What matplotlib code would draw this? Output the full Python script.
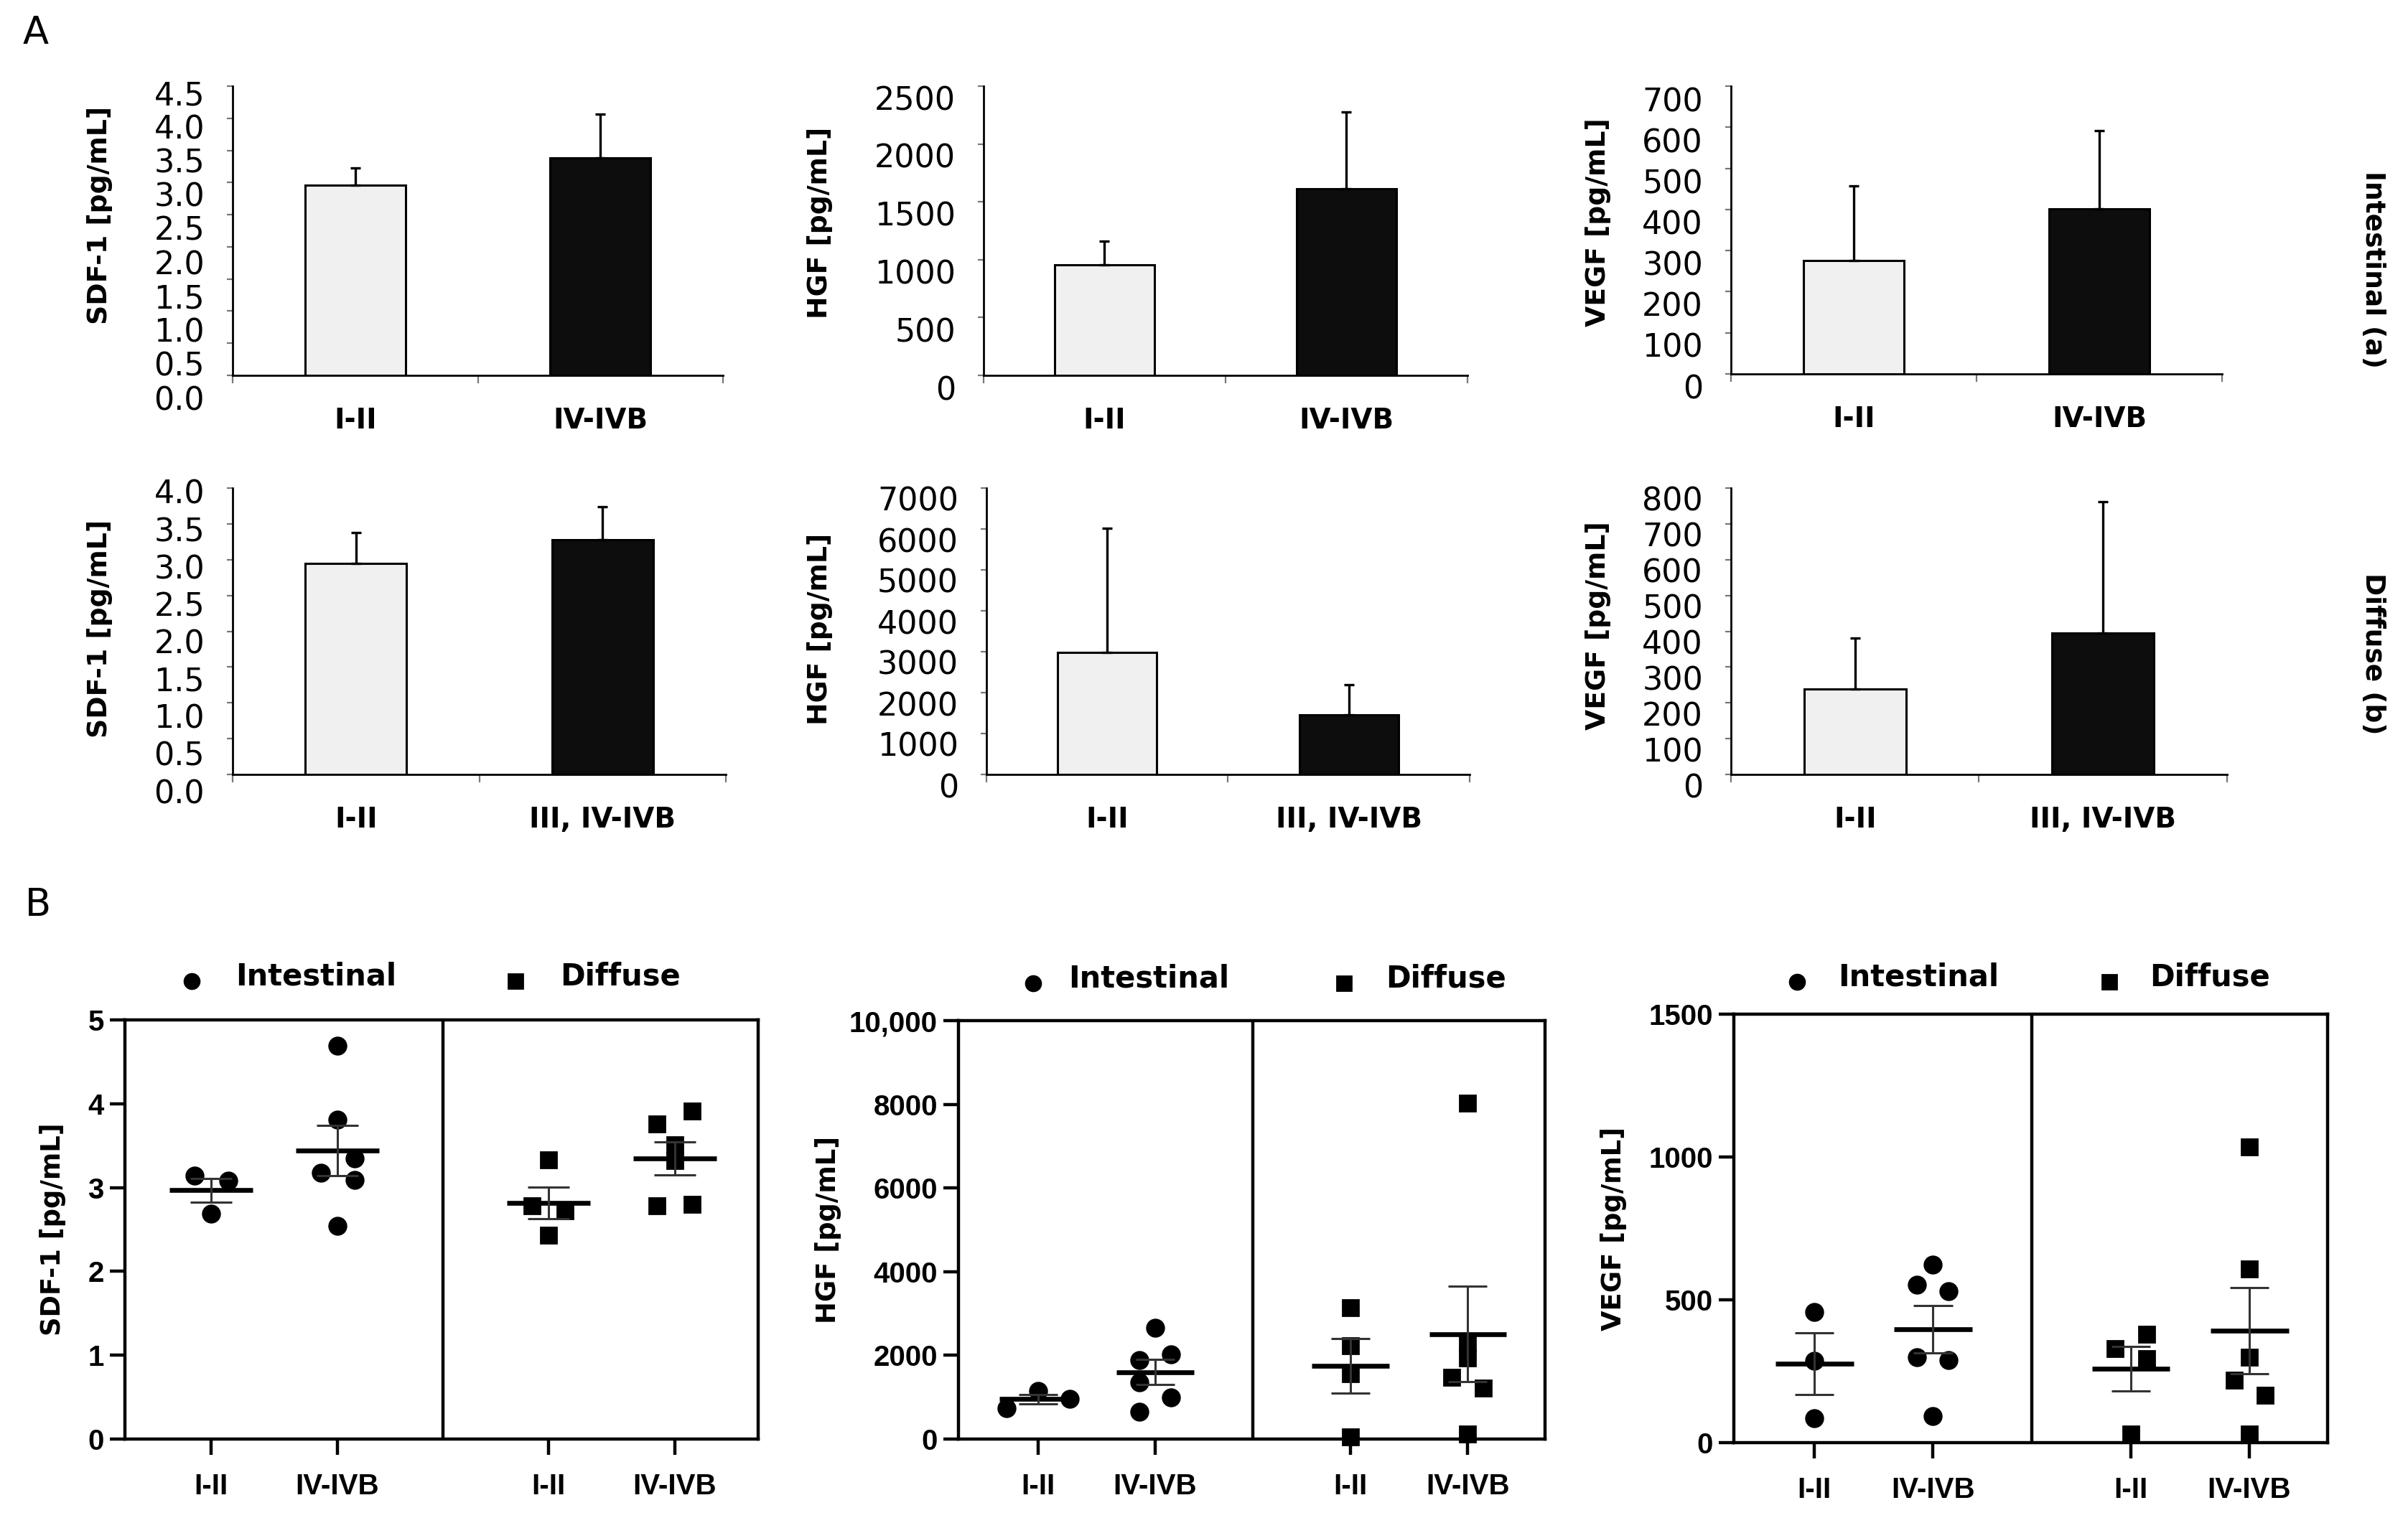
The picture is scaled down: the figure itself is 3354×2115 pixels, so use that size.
import numpy as np
import matplotlib
matplotlib.use("Agg")
import matplotlib.pyplot as plt
from matplotlib.transforms import ScaledTranslation

# ---- panel A: bar means with upper error ----
stages_int = ["I-II", "IV-IVB"]
stages_diff = ["I-II", "III, IV-IVB"]

sdf_int_mean = [2.96, 3.38]
sdf_int_err = [0.27, 0.69]
hgf_int_mean = [955, 1611]
hgf_int_err = [205, 666]
vegf_int_mean = [275, 402]
vegf_int_err = [183, 189]

sdf_diff_mean = [2.95, 3.28]
sdf_diff_err = [0.43, 0.46]
hgf_diff_mean = [2990, 1448]
hgf_diff_err = [3031, 738]
vegf_diff_mean = [238, 395]
vegf_diff_err = [142, 367]

# ---- panel B: individual patients ----
stages_b = ["I-II", "IV-IVB", "I-II", "IV-IVB"]

sdf_int_12 = [3.14, 3.08, 2.69]
sdf_int_4 = [4.69, 3.81, 3.35, 3.18, 3.09, 2.54]
sdf_diff_12 = [3.33, 2.78, 2.72, 2.43]
sdf_diff_4 = [3.91, 3.76, 3.51, 3.32, 2.78, 2.80]

hgf_int_12 = [740, 1150, 968]
hgf_int_4 = [2659, 2032, 1890, 1355, 996, 655]
hgf_diff_12 = [3143, 2232, 1566, 57]
hgf_diff_4 = [8030, 2277, 1935, 1480, 1224, 114]

vegf_int_12 = [457, 286, 85]
vegf_int_4 = [624, 553, 530, 298, 288, 94]
vegf_diff_12 = [380, 329, 294, 31]
vegf_diff_4 = [1034, 608, 298, 219, 165, 31]

# horizontal scatter of the dots (fraction of group spacing)
sdf_jit = [[-0.13, 0.14, 0], [0, 0, 0.14, -0.13, 0.14, 0],
           [0, -0.13, 0.13, 0], [0.14, -0.14, 0, 0, -0.14, 0.14]]
hgf_jit = [[-0.27, 0, 0.27], [0, 0.135, -0.135, -0.135, 0.135, -0.135],
           [0, 0, 0, 0], [0, 0, 0, -0.135, 0.135, 0]]
vegf_jit = [[0, 0, 0], [0, -0.134, 0.134, -0.134, 0.134, 0],
            [0.134, -0.134, 0.134, 0], [0, 0, 0, -0.13, 0.13, 0]]

W, H, DPI = 3355, 2115, 200
LIGHT = "#f0f0f0"
DARK = "#0d0d0d"

plt.rcParams["font.family"] = "DejaVu Sans"
fig = plt.figure(figsize=(W / DPI, H / DPI), dpi=DPI)


def rect(l, t, r, b):
    return [l / W, 1 - b / H, (r - l) / W, (b - t) / H]


def bar_panel(box, means, errs, cats, yticks, fmt, ylab, shift, lab_y):
    ax = fig.add_axes(rect(*box))
    x = np.arange(len(means))
    ax.bar(x, means, width=0.41, color=[LIGHT, DARK], edgecolor="black",
           linewidth=1.1, zorder=2)
    ax.errorbar(x, means, yerr=[np.zeros(len(errs)), errs], fmt="none",
                ecolor="black", elinewidth=1.2, capsize=2.6, capthick=1.2, zorder=3)
    ax.set_xlim(-0.5, len(means) - 0.5)
    ax.set_ylim(yticks[0], yticks[-1])
    for s in ["top", "right"]:
        ax.spines[s].set_visible(False)
    for s in ["left", "bottom"]:
        ax.spines[s].set_linewidth(1.0)
    ax.set_xticks(x)
    ax.set_xticklabels(cats, fontsize=14, fontweight="bold")
    ax.set_xticks(np.arange(len(means) + 1) - 0.5, minor=True)
    ax.tick_params(axis="x", which="major", length=0, pad=16)
    ax.tick_params(axis="x", which="minor", length=4, width=0.8, color="#777777")
    ax.set_yticks(yticks)
    ax.set_yticklabels([fmt.format(v) for v in yticks], fontsize=16)
    ax.tick_params(axis="y", length=3, width=0.8, color="#777777", pad=11)
    y0, y1 = yticks[0], yticks[-1]
    for lab, v in zip(ax.get_yticklabels(), yticks):
        f = (v - y0) / (y1 - y0)
        dy = shift[0] * f + shift[1] * (1 - f)
        lab.set_transform(lab.get_transform() +
                          ScaledTranslation(0, -dy / DPI, fig.dpi_scale_trans))
    fig.text(lab_y[0] / W, 1 - lab_y[1] / H, ylab, rotation=90, fontsize=13.6,
             fontweight="bold", ha="center", va="center")
    return ax


def dot_panel(box, groups, jit, yticks, ytlabels, ylab, lab_pos, leg):
    ax = fig.add_axes(rect(*box))
    pos = [1, 2, 3.67, 4.67]
    marks = ["o", "o", "s", "s"]
    for p, vals, offs, mk in zip(pos, groups, jit, marks):
        vals = np.asarray(vals, dtype=float)
        ax.plot(p + np.asarray(offs), vals, linestyle="none", marker=mk,
                ms=8.5 if mk == "o" else 8, color="black", zorder=3, clip_on=False)
        m = vals.mean()
        sem = vals.std(ddof=1) / np.sqrt(len(vals))
        ax.hlines(m, p - 0.33, p + 0.33, color="black", lw=2.4, zorder=4)
        ax.vlines(p, m - sem, m + sem, color="#333333", lw=1.1, zorder=4)
        ax.hlines([m - sem, m + sem], p - 0.165, p + 0.165, color="#333333",
                  lw=1.1, zorder=4)
    ax.axvline(2.835, color="black", lw=1.6)
    ax.set_xlim(0.32, 5.33)
    ax.set_ylim(yticks[0], yticks[-1])
    for s in ax.spines.values():
        s.set_linewidth(1.6)
    ax.set_xticks(pos)
    ax.set_xticklabels(stages_b, fontsize=14.5, fontweight="bold",
                       family="Liberation Sans")
    ax.tick_params(axis="x", length=8, width=1.6, pad=9)
    ax.set_yticks(yticks)
    ax.set_yticklabels(ytlabels, fontsize=14.5, fontweight="bold",
                       family="Liberation Sans")
    ax.tick_params(axis="y", length=7.5, width=1.6, pad=3)
    fig.text(lab_pos[0] / W, 1 - lab_pos[1] / H, ylab, rotation=90, fontsize=13.3,
             fontweight="bold", ha="center", va="center")
    cx, tx, sx, dx, ly = leg
    ax.plot([cx], [ly], marker="o", ms=7.5, color="black", transform=ax.transAxes,
            clip_on=False)
    ax.plot([sx], [ly], marker="s", ms=7, color="black", transform=ax.transAxes,
            clip_on=False)
    ax.text(tx, ly + 0.012, "Intestinal", transform=ax.transAxes, fontsize=15,
            fontweight="bold", va="center", ha="left")
    ax.text(dx, ly + 0.012, "Diffuse", transform=ax.transAxes, fontsize=15,
            fontweight="bold", va="center", ha="left")
    return ax


# panel A, intestinal row
bar_panel((324, 120, 1007, 523), sdf_int_mean, sdf_int_err, stages_int,
          np.arange(0, 4.51, 0.5), "{:.1f}", "SDF-1 [pg/mL]", (9, 31), (139, 300))
bar_panel((1370, 120, 2044, 523), hgf_int_mean, hgf_int_err, stages_int,
          np.arange(0, 2501, 500), "{:.0f}", "HGF [pg/mL]", (16, 17), (1142, 310))
bar_panel((2411, 120, 3095, 521), vegf_int_mean, vegf_int_err, stages_int,
          np.arange(0, 701, 100), "{:.0f}", "VEGF [pg/mL]", (18, 17), (2226, 310))

# panel A, diffuse row
bar_panel((324, 680, 1011, 1079), sdf_diff_mean, sdf_diff_err, stages_diff,
          np.arange(0, 4.01, 0.5), "{:.1f}", "SDF-1 [pg/mL]", (5, 23), (139, 876))
bar_panel((1374, 680, 2047, 1079), hgf_diff_mean, hgf_diff_err, stages_diff,
          np.arange(0, 7001, 1000), "{:.0f}", "HGF [pg/mL]", (15, 15), (1142, 876))
bar_panel((2411, 680, 3102, 1079), vegf_diff_mean, vegf_diff_err, stages_diff,
          np.arange(0, 801, 100), "{:.0f}", "VEGF [pg/mL]", (15, 15), (2226, 872))

fig.text(3305 / W, 1 - 375 / H, "Intestinal (a)", rotation=270, fontsize=13.5,
         fontweight="bold", ha="center", va="center")
fig.text(3305 / W, 1 - 911 / H, "Diffuse (b)", rotation=270, fontsize=13.5,
         fontweight="bold", ha="center", va="center")

# panel B
dot_panel((174, 1421, 1056, 2005), [sdf_int_12, sdf_int_4, sdf_diff_12, sdf_diff_4],
          sdf_jit, [0, 1, 2, 3, 4, 5], ["0", "1", "2", "3", "4", "5"],
          "SDF-1 [pg/mL]", (74, 1713), (0.105, 0.175, 0.617, 0.687, 1.092))
dot_panel((1335, 1422, 2152, 2005), [hgf_int_12, hgf_int_4, hgf_diff_12, hgf_diff_4],
          hgf_jit, [0, 2000, 4000, 6000, 8000, 10000],
          ["0", "2000", "4000", "6000", "8000", "10,000"],
          "HGF [pg/mL]", (1153, 1713), (0.127, 0.187, 0.657, 0.728, 1.089))
dot_panel((2415, 1413, 3242, 2010), [vegf_int_12, vegf_int_4, vegf_diff_12, vegf_diff_4],
          vegf_jit, [0, 500, 1000, 1500], ["0", "500", "1000", "1500"],
          "VEGF [pg/mL]", (2248, 1712), (0.107, 0.175, 0.633, 0.700, 1.075))

fig.text(50 / W, 1 - 46 / H, "A", fontsize=19, ha="center", va="center")
fig.text(53 / W, 1 - 1261 / H, "B", fontsize=19, ha="center", va="center")

fig.savefig("out.png", dpi=DPI, facecolor="white")
